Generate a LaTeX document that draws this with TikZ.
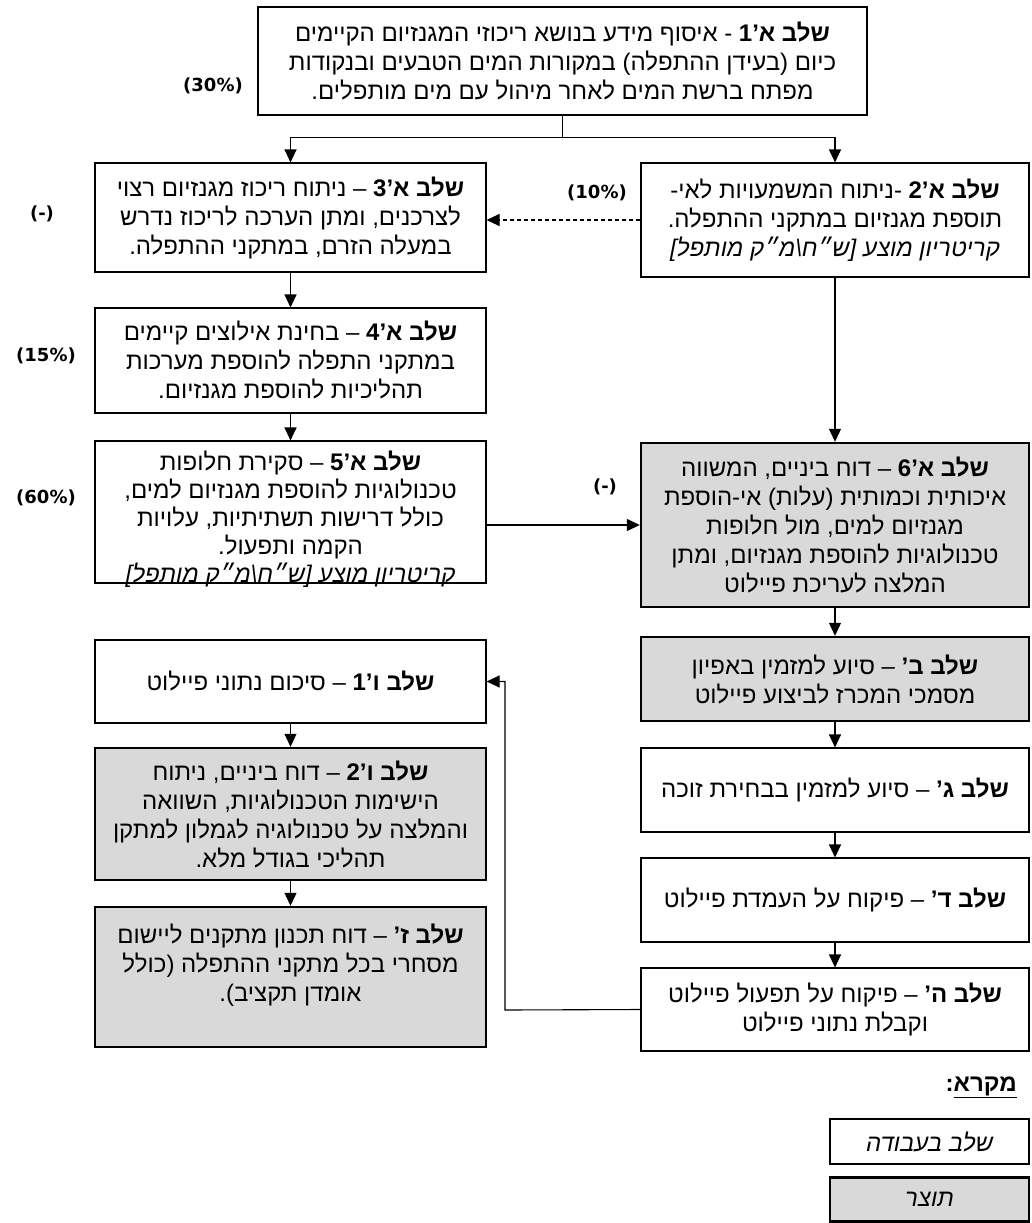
\documentclass[tikz,border=0pt]{standalone}
\usepackage{fontspec}
\setmainfont{Liberation Sans}
\newfontfamily\hebfont[Script=Hebrew]{Liberation Sans}
\newfontfamily\pctfont{DejaVu Sans}
\TeXXeTstate=1
\usetikzlibrary{arrows.meta}
\newcommand\rl[1]{\beginR#1\endR}
\definecolor{prodgray}{RGB}{217,217,217}
\begin{document}
\begin{tikzpicture}[x=1pt,y=-1pt,
  boxtext/.style={inner sep=0pt, align=center, font=\hebfont\fontsize{24}{29}\selectfont},
  box/.style={boxtext, draw, line width=1.1pt, minimum width=391pt},
  prod/.style={box, fill=prodgray, line width=2.4pt},
  conn/.style={line width=1.1pt},
  arr/.style={conn, -{Triangle[width=12pt,length=13pt]}},
  pct/.style={font=\pctfont\bfseries\fontsize{18}{20}\selectfont, inner sep=0pt},
]
\useasboundingbox (0,0) rectangle (1031,1223);

\node[box, minimum width=609pt, minimum height=108pt] (a1) at (562.5,61)
 {\rl{\textbf{שלב א’1} - איסוף מידע בנושא ריכוזי המגנזיום הקיימים}\\
  \rl{כיום (בעידן ההתפלה) במקורות המים הטבעים ובנקודות}\\
  \rl{מפתח ברשת המים לאחר מיהול עם מים מותפלים.}};

\node[box, minimum height=109pt] (a3) at (290.5,217.5)
 {\rl{\textbf{שלב א’3} – ניתוח ריכוז מגנזיום רצוי}\\
  \rl{לצרכנים, ומתן הערכה לריכוז נדרש}\\
  \rl{במעלה הזרם, במתקני ההתפלה.}};

\node[box, minimum width=388pt, minimum height=114pt] (a2) at (835,220)
 {\rl{\textbf{שלב א’2} -ניתוח המשמעויות לאי-}\\
  \rl{תוספת מגנזיום במתקני ההתפלה.}\\
  \rl{\textit{קריטריון מוצע [ש״ח\textbackslash מ״ק מותפל]}}};

\node[box, minimum height=105pt] (a4) at (290.5,360.5)
 {\rl{\textbf{שלב א’4} – בחינת אילוצים קיימים}\\
  \rl{במתקני התפלה להוספת מערכות}\\
  \rl{תהליכיות להוספת מגנזיום.}};

\node[box, minimum height=142pt] (a5) at (290.5,512) {};
\node[boxtext, font=\hebfont\fontsize{24}{28}\selectfont] (a5t) at (290.5,519)
 {\rl{\textbf{שלב א’5} – סקירת חלופות}\\
  \rl{טכנולוגיות להוספת מגנזיום למים,}\\
  \rl{כולל דרישות תשתיתיות, עלויות}\\
  \rl{הקמה ותפעול.}\\
  \rl{\textit{קריטריון מוצע [ש״ח\textbackslash מ״ק מותפל]}}};

\node[prod, minimum width=388pt, minimum height=164pt] (a6) at (835,525)
 {\rl{\textbf{שלב א’6} – דוח ביניים, המשווה}\\
  \rl{איכותית וכמותית (עלות) אי-הוספת}\\
  \rl{מגנזיום למים, מול חלופות}\\
  \rl{טכנולוגיות להוספת מגנזיום, ומתן}\\
  \rl{המלצה לעריכת פיילוט}};

\node[prod, minimum width=388pt, minimum height=84pt] (b) at (835,679)
 {\rl{\textbf{שלב ב’} – סיוע למזמין באפיון}\\
  \rl{מסמכי המכרז לביצוע פיילוט}};

\node[box, minimum width=388pt, minimum height=84pt] (g) at (835,790)
 {\rl{\textbf{שלב ג’} – סיוע למזמין בבחירת זוכה}};

\node[box, minimum width=388pt, minimum height=84pt] (d) at (835,900)
 {\rl{\textbf{שלב ד’} – פיקוח על העמדת פיילוט}};

\node[box, minimum width=388pt, minimum height=83pt] (h) at (835,1009.5)
 {\rl{\textbf{שלב ה’} – פיקוח על תפעול פיילוט}\\
  \rl{וקבלת נתוני פיילוט}};

\node[box, minimum height=83pt] (v1) at (290.5,681.5)
 {\rl{\textbf{שלב ו’1} – סיכום נתוני פיילוט}};

\node[prod, minimum height=132pt] (v2) at (290.5,814)
 {\rl{\textbf{שלב ו’2} – דוח ביניים, ניתוח}\\
  \rl{הישימות הטכנולוגיות, השוואה}\\
  \rl{והמלצה על טכנולוגיה לגמלון למתקן}\\
  \rl{תהליכי בגודל מלא.}};

\node[prod, minimum height=140pt] (z) at (290.5,977)
 {\rl{\textbf{שלב ז’} – דוח תכנון מתקנים ליישום}\\
  \rl{מסחרי בכל מתקני ההתפלה (כולל}\\
  \rl{אומדן תקציב).}\\
  \mbox{}};

% legend
\node[boxtext, anchor=east] (lt) at (1017,1087)
 {\rl{\underline{\textbf{מקרא}}\textbf{:}}};
\node[box, minimum width=199pt, minimum height=45pt] (l1) at (929.5,1141.5)
 {\rl{\textit{שלב בעבודה}}};
\node[prod, minimum width=199pt, minimum height=44pt] (l2) at (929.5,1199.5)
 {\rl{\textit{תוצר}}};

% percentages
\node[pct] (p30) at (213,86) {(30\%)};
\node[pct] (p10) at (597,193) {(10\%)};
\node[pct] (pm1) at (42,214) {(-)};
\node[pct] (p15) at (46,356) {(15\%)};
\node[pct] (p60) at (46,498) {(60\%)};
\node[pct] (pm2) at (605,487) {(-)};

% connectors
\draw[conn] (a1.south) -- ++(0,22) coordinate (split);
\draw[arr] (split) -| (a3.north);
\draw[arr] (split) -| (a2.north);
\draw[arr, dash pattern=on 4pt off 3pt] (a2.west) -- (a2.west -| a3.east);
\draw[arr] (a3) -- (a4);
\draw[arr] (a4) -- (a5);
\draw[arr] (a6.west -| a5.east) -- (a6.west);
\draw[arr] (a2) -- (a6);
\draw[arr] (a6) -- (b);
\draw[arr] (b) -- (g);
\draw[arr] (g) -- (d);
\draw[arr] (d) -- (h);
\coordinate (ret) at (505,1010);
\draw[arr] (h.west) -- (ret) |- (v1.east);
\draw[arr] (v1) -- (v2);
\draw[arr] (v2) -- (z);
\end{tikzpicture}
\end{document}
